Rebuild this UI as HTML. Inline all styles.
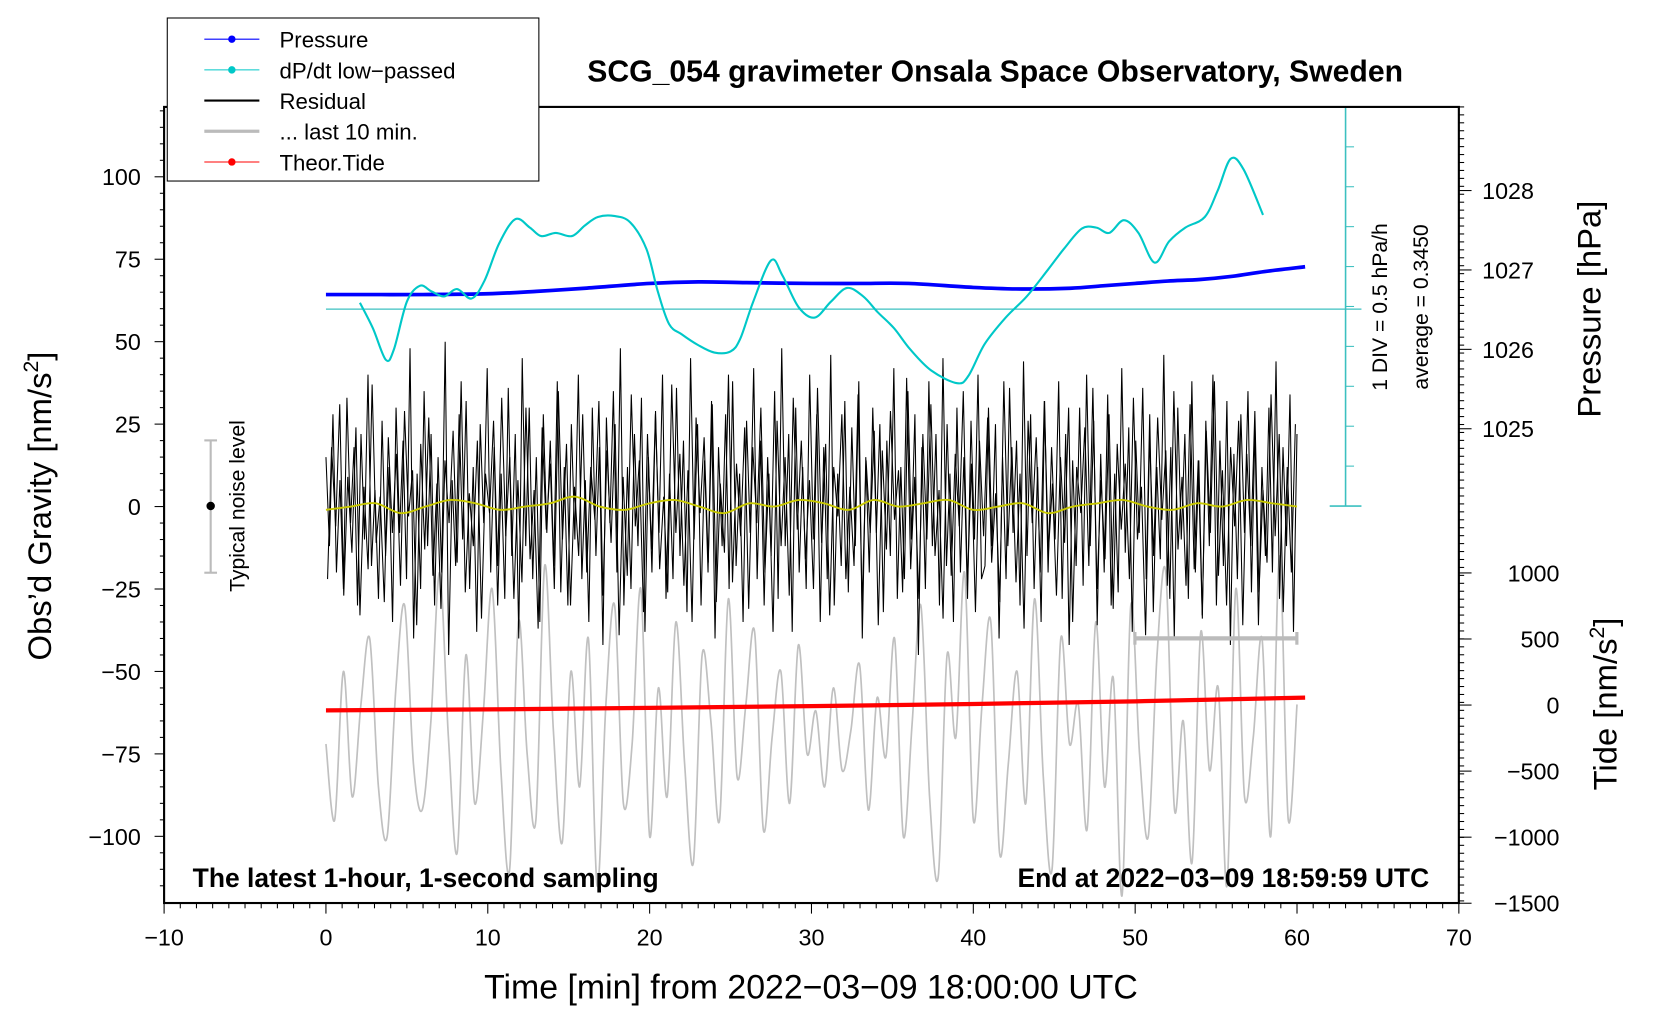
<!DOCTYPE html>
<html><head><meta charset="utf-8"><style>
html,body{margin:0;padding:0;background:#fff;}
svg{display:block;font-family:"Liberation Sans",sans-serif;}
</style></head><body>
<svg id="chart" width="1660" height="1020" viewBox="0 0 1568 963.5" preserveAspectRatio="none" xmlns="http://www.w3.org/2000/svg">
<g id="ticks"></g>
<g id="series"></g>
<rect x="155" y="101" width="1223" height="752" fill="none" stroke="#000" stroke-width="2"/>
<text x="940" y="77" text-anchor="middle" font-size="28.5" font-weight="bold">SCG_054 gravimeter Onsala Space Observatory, Sweden</text>
<text x="766" y="943" text-anchor="middle" font-size="32">Time [min] from 2022−03−09 18:00:00 UTC</text>
<text transform="translate(48,478) rotate(-90)" text-anchor="middle" font-size="31">Obs’d Gravity [nm/s<tspan font-size="20" dy="-12">2</tspan><tspan dy="12">]</tspan></text>
<text transform="translate(1512,292) rotate(-90)" text-anchor="middle" font-size="31">Pressure [hPa]</text>
<text transform="translate(1527,665) rotate(-90)" text-anchor="middle" font-size="31">Tide [nm/s<tspan font-size="20" dy="-12">2</tspan><tspan dy="12">]</tspan></text>
<text x="182" y="838" font-size="25" font-weight="bold">The latest 1-hour, 1-second sampling</text>
<text x="1350" y="838" text-anchor="end" font-size="25" font-weight="bold">End at 2022−03−09 18:59:59 UTC</text>
<text transform="translate(1310,290) rotate(-90)" text-anchor="middle" font-size="20">1 DIV = 0.5 hPa/h</text>
<text transform="translate(1349,290) rotate(-90)" text-anchor="middle" font-size="20">average = 0.3450</text>
<g>
<line x1="199" y1="416" x2="199" y2="541" stroke="#bbb" stroke-width="2"/>
<line x1="193" y1="416" x2="205" y2="416" stroke="#bbb" stroke-width="2"/>
<line x1="193" y1="541" x2="205" y2="541" stroke="#bbb" stroke-width="2"/>
<circle cx="199" cy="478" r="4" fill="#000"/>
</g>
<text transform="translate(231,478) rotate(-90)" text-anchor="middle" font-size="20">Typical noise level</text>
<g>
<line x1="1072" y1="603" x2="1225" y2="603" stroke="#bbb" stroke-width="4"/>
<line x1="1072" y1="597" x2="1072" y2="609" stroke="#bbb" stroke-width="3"/>
<line x1="1225" y1="597" x2="1225" y2="609" stroke="#bbb" stroke-width="3"/>
</g>
<g>
<rect x="158" y="17" width="351" height="154" fill="#fff" stroke="#000" stroke-width="1"/>
<g><line x1="193" y1="37" x2="245" y2="37" stroke="#00f" stroke-width="1"/><circle cx="219" cy="37" r="3.5" fill="#00f"/><text x="264" y="45" font-size="21">Pressure</text></g>
<g><line x1="193" y1="66" x2="245" y2="66" stroke="#00c8c8" stroke-width="1"/><circle cx="219" cy="66" r="3.5" fill="#00c8c8"/><text x="264" y="74" font-size="21">dP/dt low−passed</text></g>
<g><line x1="193" y1="95" x2="245" y2="95" stroke="#000" stroke-width="2"/><text x="264" y="103" font-size="21">Residual</text></g>
<g><line x1="193" y1="124" x2="245" y2="124" stroke="#bbb" stroke-width="3"/><text x="264" y="132" font-size="21">... last 10 min.</text></g>
<g><line x1="193" y1="153" x2="245" y2="153" stroke="#f00" stroke-width="1"/><circle cx="219" cy="153" r="3.5" fill="#f00"/><text x="264" y="161" font-size="21">Theor.Tide</text></g>
</g>
</svg>
<script>
const xTicks=[-10,0,10,20,30,40,50,60,70];
const yTicks=[-100,-75,-50,-25,0,25,50,75,100];
const pTicks=[1025,1026,1027,1028];
const tTicks=[-1500,-1000,-500,0,500,1000];
const pressT=[0,3,6,10,13,16,20,23,26,30,33,36,40,43,46,48,50,52,54,56,58,60.5];
const pressV=[1026.69,1026.69,1026.69,1026.70,1026.73,1026.77,1026.83,1026.85,1026.84,1026.83,1026.83,1026.83,1026.78,1026.76,1026.77,1026.80,1026.83,1026.86,1026.88,1026.92,1026.98,1027.04];
const dpT=[2.1,2.9,3.7,4.2,5.0,5.8,6.5,7.3,8.1,9.0,9.8,10.7,11.7,12.6,13.3,14.2,15.2,16.0,16.8,17.8,18.8,19.8,20.5,21.2,22.0,23.0,24.0,25.0,25.6,26.4,27.5,28.2,29.2,30.2,31.2,32.2,33.2,34.1,35.1,36.1,37.4,39.0,39.7,40.7,42.0,43.3,44.6,45.6,46.7,47.6,48.4,49.3,50.2,51.2,52.1,53.1,54.3,55.1,55.9,56.7,57.9];
const dpV=[0.425,0.106,-0.29,-0.159,0.438,0.637,0.57,0.504,0.597,0.478,0.703,1.167,1.472,1.366,1.26,1.30,1.26,1.393,1.499,1.512,1.432,1.10,0.57,0.159,0.027,-0.106,-0.199,-0.185,-0.026,0.438,0.955,0.769,0.371,0.239,0.438,0.610,0.504,0.305,0.106,-0.159,-0.424,-0.583,-0.49,-0.093,0.239,0.504,0.836,1.10,1.353,1.366,1.30,1.459,1.30,0.928,1.194,1.366,1.499,1.83,2.228,2.095,1.525];
const residA=[15,-12,28,-20,8,-25,33,-5,18,-30,22,-10,40,-18,5,-28,26,-15,12,-35,30,-8,20,-22,48,-40,10,-25,35,-12,22,-30,15,-20,50,-45,8,-18,28,-10,
32,-25,12,-38,25,-5,42,-20,18,-30,10,-28,36,-15,22,-40,45,-12,30,-22,15,-35,28,-8,20,-18,38,-26,12,-30,
25,-10,40,-22,8,-35,30,-15,18,-42,27,-5,35,-20,48,-30,12,-25,22,-12,33,-38,15,-20,28,-8,40,-28,10,-22,
36,-15,20,-32,45,-10,25,-30,14,-20,32,-40,18,-12,28,-25,38,-18,10,-35,26,-8,42,-22,20,-30,15,-15,35,-28,
48,-12,22,-38,30,-20,12,-25,40,-10,28,-35,18,-22,46,-30,10,-18,32,-26,24,-12,38,-40,15,-20,30,-8,25,-32,
20,-15,42,-28,12,-22,35,-10,28,-45,18,-25,38,-12,22,-30,45,-18,10,-35,30,-20,15,-28,26,-10,40,-22,
-18,30,-12,25,-40,15,-22,36,-8,20,-30,44,-15,28,-25,12,-35,32,-20,18,-10,38,-28,22,-42,14,-18,30,-24,40,-12,26,-36,16,-20,34,-30,10,-26,42,
-14,24,-38,20,-8,36,-22,28,-32,12,-16,46,-24,18,-40,30,-10,22,-28,38,-20,14,-34,26,-12,40,-30,20,-18,32,-42,16,-22,28,-8,35,-26,24,-36,12,
-15,30,-20,44,-28,18,-12,34,-38,22];
const residB=[-22,18,-6,31,-27,9,-14,24,-33,6,-19,37,-11,3,-29,21,-8,16,-24,29,-3,11,-36,19,-13,27,-21,7,-31,14,
-5,23,-17,38,-26,4,-12,20,-34,10,-2,26,-18,33,-9,15,-28,8,-23,30,-16,5,-37,24,-7,13,-25,35,-10,19,
-30,6,-15,28,-20,12,-4,32,-27,17,-11,25,-39,9,-21,34,-6,14,-32,22,-13,29,-19,3,-26,37,-8,16,-24,11,
-35,27,-2,21,-17,31,-29,7,-14,40,-23,13,-9,24,-31,18,-5,30,-20,10,-38,26,-12,15,-27,33,-7,20,-16,8,
-25,36,-11,19,-33,12,-3,28,-22,6,-18,34,-30,14,-8,23,-36,17,-13,29,-4,11,-26,39,-19,9,-28,22,-10,31,
-15,5,-34,25,-21,16,-6,35,-24,13,-32,20,-9,27,-17,4,-29,38,-12,18,-23,10,-37,26,-5,21,-20,32,-14,7,
-27,15,-11,30,-35,12,-2,24,-18,36,-25,8,-16,28,-31,19,-7,13,-22,33,-10,6,-39,21,-15,27,-4,17,-28,35,
-13,9,-24,31,-19,14,-33,23,-8,38,-21,11,-30,18,-6,26,-36,16,-12,29,-26,5,-17,34,-9,22,-32,12,-20,25];
const smoothV=[-1,0,1,-2,0,2,1,-1,0,1,3,0,-1,1,2,0,-2,1,0,2,1,-1,2,0,1,2,-1,0,1,-2,0,1,2,0,-1,1,0,2,1,0];
const grayV=[-72,-95,-50,-88,-60,-40,-85,-100,-55,-30,-78,-92,-65,-20,-70,-105,-45,-90,-62,-25,-80,-110,-35,-75,-95,-18,-68,-102,-50,-85,-40,-115,-60,-30,-90,-72,-25,-100,-55,-88,-35,-78,-108,-45,-65,-95,-28,-82,-60,-38,-98,-70,-50,-90,-42,-75,-62,-85,-55,-80,-68,-48,-92,-58,-76,-40,-100,-66,-30,-88,-112,-45,-70,-20,-95,-60,-35,-105,-78,-50,-90,-28,-82,-110,-40,-72,-60,-98,-35,-85,-52,-118,-30,-75,-100,-45,-20,-92,-65,-108,-38,-80,-55,-115,-25,-88,-70,-40,-100,-15,-95,-60];
const tideT=[0,10,20,30,40,50,60.5];
const tideV=[-40,-33,-22,-8,8,28,56];

const NS="http://www.w3.org/2000/svg";
const X=m=>155+(m+10)*(1223/80);
const Y=v=>478.5-v*(623/200);
const YP=p=>180+(1028-p)*75;
const YT=t=>666-t*(62.4/500);
const YD=d=>292-(d-0.345)/0.5*37.7;
const tk=document.getElementById('ticks'), sr=document.getElementById('series');
function el(tag,attrs,parent,txt){const e=document.createElementNS(NS,tag);for(const k in attrs)e.setAttribute(k,attrs[k]);if(txt!==undefined)e.textContent=txt;parent.appendChild(e);return e;}
for(let m=-10;m<=70;m++){const maj=m%10===0;el('line',{x1:X(m),x2:X(m),y1:853,y2:853+(maj?10:5),stroke:'#000','stroke-width':1},tk);}
xTicks.forEach(v=>{const t=el('text',{x:X(v),y:893,'text-anchor':'middle','font-size':22},tk,String(v).replace('-','−'));

});
for(let v=-115;v<=120;v+=5){const maj=v%25===0;el('line',{x1:155-(maj?9:4),x2:155,y1:Y(v),y2:Y(v),stroke:'#000','stroke-width':1},tk);}
yTicks.forEach(v=>{const t=el('text',{x:133,y:Y(v)+8,'text-anchor':'end','font-size':22},tk,String(v).replace('-','−'));

});
for(let y=101;y<=853;y+=7.5){el('line',{x1:1378,x2:1383,y1:y,y2:y,stroke:'#000','stroke-width':1},tk);}
pTicks.forEach(v=>{el('line',{x1:1378,x2:1390,y1:YP(v),y2:YP(v),stroke:'#000'},tk);const t=el('text',{x:1400,y:YP(v)+8,'font-size':22},tk,String(v));

});
tTicks.forEach(v=>{el('line',{x1:1378,x2:1390,y1:YT(v),y2:YT(v),stroke:'#000'},tk);const t=el('text',{x:1473,y:YT(v)+8,'text-anchor':'end','font-size':22},tk,String(v).replace('-','−'));

});
const sb=el('g',{},sr);


el('line',{x1:307.9,x2:1286,y1:YD(0.345),y2:YD(0.345),stroke:'#3cc0c0','stroke-width':1.2},sb);
el('line',{x1:1271,x2:1271,y1:101,y2:478,stroke:'#3cc0c0','stroke-width':1.5},sb);
el('line',{x1:1256,x2:1286,y1:478,y2:478,stroke:'#3cc0c0','stroke-width':1.5},sb);
el('line',{x1:1256,x2:1286,y1:101,y2:101,stroke:'#3cc0c0','stroke-width':1.5},sb);
for(let i=1;i<10;i++){el('line',{x1:1271,x2:1279,y1:101+i*37.7,y2:101+i*37.7,stroke:'#3cc0c0'},sb);}
function poly(ts,vs,yf){return ts.map((t,i)=>X(t).toFixed(1)+','+yf(vs[i]).toFixed(1)).join(' ');}
function spread(vs,t0,t1){return vs.map((_,i)=>t0+(t1-t0)*i/(vs.length-1));}
function smoothPath(ts,vs,yf){const p=ts.map((t,i)=>[X(t),yf(vs[i])]);let d='M'+p[0][0]+','+p[0][1];
for(let i=0;i<p.length-1;i++){const a=p[i-1]||p[i],b=p[i],c=p[i+1],e=p[i+2]||c;
d+=' C'+(b[0]+(c[0]-a[0])/6)+','+(b[1]+(c[1]-a[1])/6)+' '+(c[0]-(e[0]-b[0])/6)+','+(c[1]-(e[1]-b[1])/6)+' '+c[0]+','+c[1];}return d;}
const g=el('path',{d:smoothPath(spread(grayV,0,60),grayV,Y),fill:'none',stroke:'#c0c0c0','stroke-width':1.6},sr);


const r=el('polyline',{points:poly(spread(residA,0,60),residA,Y),fill:'none',stroke:'#000','stroke-width':1},sr);


const r2=el('polyline',{points:poly(spread(residB,0.1,59.9),residB,Y),fill:'none',stroke:'#000','stroke-width':1},sr);


const s=el('path',{d:smoothPath(spread(smoothV,0,60),smoothV,Y),fill:'none',stroke:'#c8c800','stroke-width':1.8},sr);


const t=el('polyline',{points:poly(tideT,tideV,YT),fill:'none',stroke:'#f00','stroke-width':4},sr);


const p=el('path',{d:smoothPath(pressT,pressV,YP),fill:'none',stroke:'#00f','stroke-width':3.5},sr);


const d=el('path',{d:smoothPath(dpT,dpV,YD),fill:'none',stroke:'#00c8c8','stroke-width':2},sr);


</script>
</body></html>
